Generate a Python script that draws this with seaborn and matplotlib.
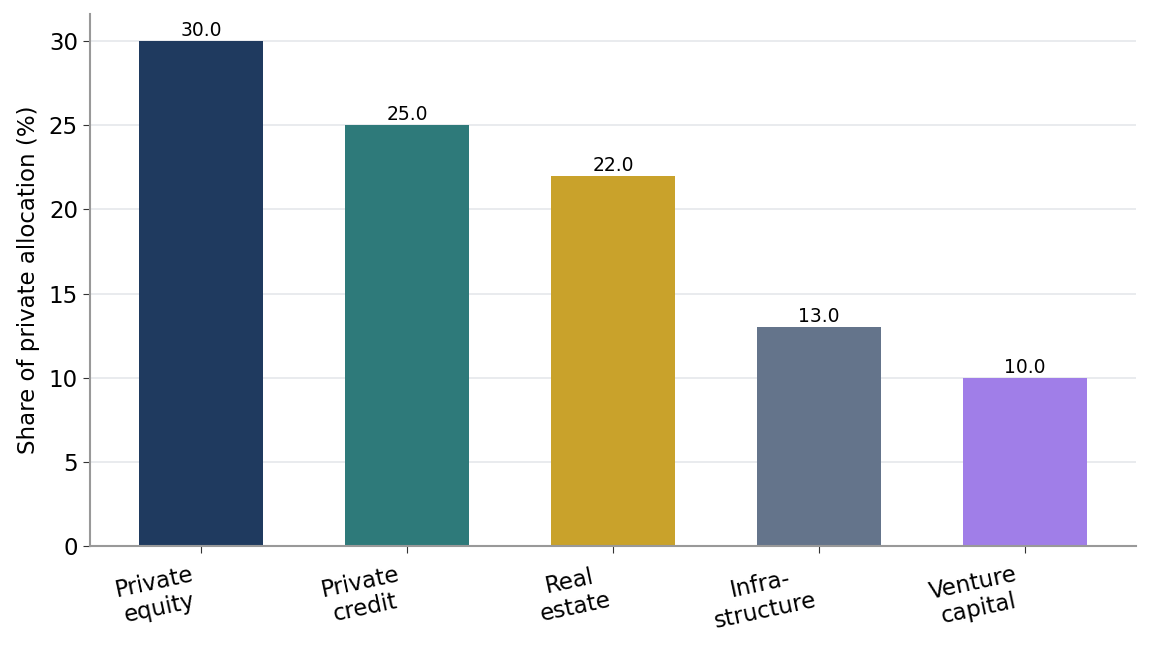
import matplotlib
matplotlib.use('Agg')
import matplotlib.pyplot as plt
import pandas as pd
import seaborn as sns

categories = ['Private\nequity', 'Private\ncredit', 'Real\nestate', 'Infra-\nstructure', 'Venture\ncapital']
shares = [30.0, 25.0, 22.0, 13.0, 10.0]
colors = ['#1f3a5f', '#2e7a7a', '#c9a22b', '#64748b', '#a07ee8']

df = pd.DataFrame({'category': categories, 'share': shares})

sns.set_style('white')
plt.rcParams['font.family'] = ['DejaVu Sans']
plt.rcParams['text.color'] = 'black'
plt.rcParams['axes.labelcolor'] = 'black'
plt.rcParams['xtick.color'] = 'black'
plt.rcParams['ytick.color'] = 'black'

fig, ax = plt.subplots(figsize=(11.51, 6.46), dpi=100)
sns.barplot(data=df, x='category', y='share', hue='category', palette=colors,
            width=0.6, legend=False, ax=ax, saturation=1, linewidth=0)

for p, v in zip(ax.patches, shares):
    ax.text(p.get_x() + p.get_width() / 2, v + 0.05, f'{v:.1f}', ha='center', va='bottom',
            fontsize=13.5)

ax.set_xlim(-0.54, 4.54)
ax.set_ylim(0, 31.6)
ax.set_xlabel('')
ax.set_ylabel('Share of private allocation (%)', fontsize=16.5, labelpad=6)
ax.yaxis.grid(True, color='#e5e7eb', linewidth=1.2)
ax.set_axisbelow(True)
ax.tick_params(axis='both', labelsize=16.5, length=5, color='#333333', bottom=True, left=True)
ax.tick_params(axis='x', pad=7)
plt.setp(ax.get_xticklabels(), rotation=12, ha='right', multialignment='center')
sns.despine(ax=ax)
for s in ['left', 'bottom']:
    ax.spines[s].set_color('#999999')
    ax.spines[s].set_linewidth(1.5)

fig.subplots_adjust(left=0.078, right=0.987, top=0.978, bottom=0.155)
fig.savefig('out.png', dpi=100)
